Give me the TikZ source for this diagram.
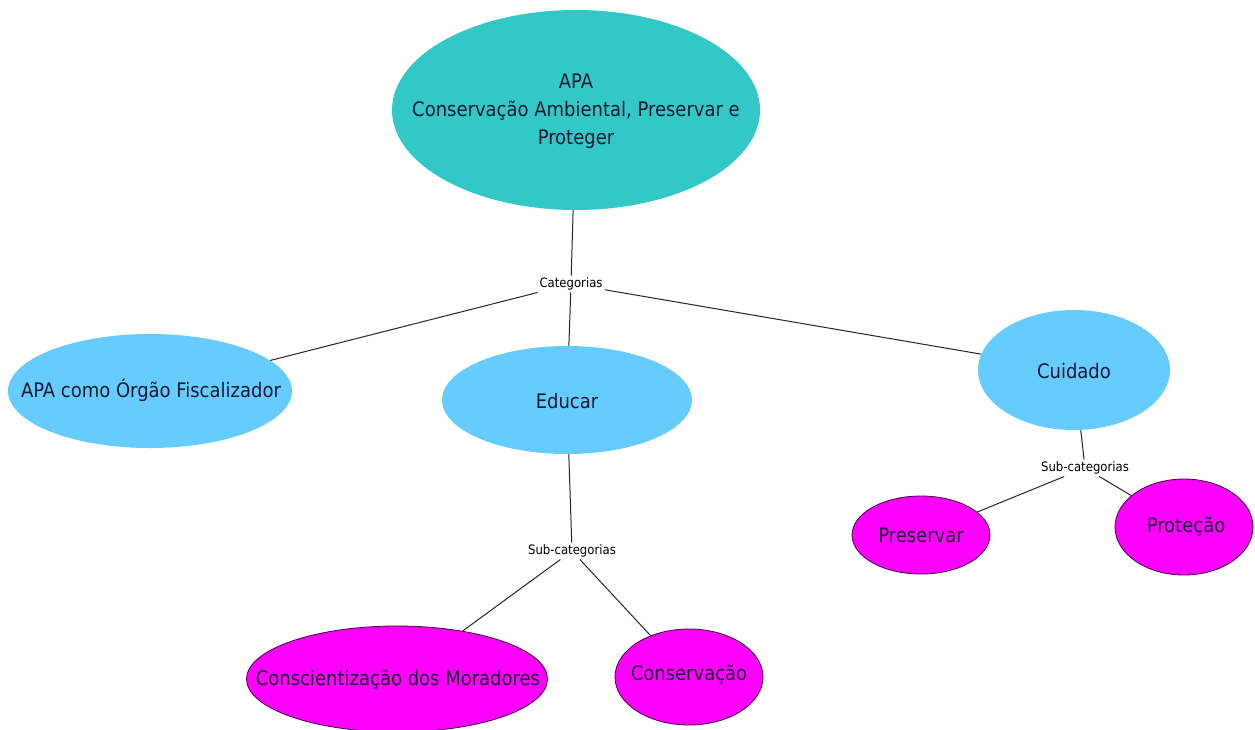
\documentclass[tikz,border=0pt]{standalone}
\usepackage{fontspec}
\setmainfont{DejaVu Sans Condensed}
\usetikzlibrary{shapes.geometric}
\definecolor{teal}{HTML}{33C8C8}
\definecolor{sky}{HTML}{66CCFF}
\definecolor{magent}{HTML}{FF00FF}
\definecolor{ink}{HTML}{1A1A30}
\definecolor{rim}{HTML}{3A0A3A}
\tikzset{
  bubble/.style={ellipse, inner sep=0pt, draw=none},
  topnode/.style={bubble, fill=teal},
  catnode/.style={bubble, fill=sky},
  subnode/.style={bubble, fill=magent, draw=rim, line width=0.8pt},
  txt/.style={font=\fontsize{20}{28}\selectfont, text=ink, align=center},
  tag/.style={font=\fontsize{13}{15}\selectfont, text=black, inner sep=2pt, fill=white},
  link/.style={draw=black!85, line width=1pt}
}
\begin{document}
\begin{tikzpicture}[x=1pt,y=-1pt]
\useasboundingbox[fill=white] (0,0) rectangle (1255,729);
% top concept
\node[topnode, minimum width=368pt, minimum height=200pt] (apa) at (576,110) {};
\node[txt] at (576,111) {APA\\Conservação Ambiental, Preservar e\\Proteger};
% categories
\node[catnode, minimum width=284pt, minimum height=114pt] (fisc) at (150,391) {};
\node[txt] at (151,390) {APA como Órgão Fiscalizador};
\node[catnode, minimum width=250pt, minimum height=108pt] (edu) at (567,400) {};
\node[txt] at (567,401) {Educar};
\node[catnode, minimum width=192pt, minimum height=120pt] (cuid) at (1074,370) {};
\node[txt] at (1074,371) {Cuidado};
% sub-categories
\node[subnode, minimum width=301pt, minimum height=106pt] (consc) at (397,679) {};
\node[txt] at (398,680) {Conscientização dos Moradores};
\node[subnode, minimum width=148pt, minimum height=96pt] (conserv) at (689,677) {};
\node[txt] at (689,675) {Conservação};
\node[subnode, minimum width=138pt, minimum height=78pt] (pres) at (921,535) {};
\node[txt] at (921,535) {Preservar};
\node[subnode, minimum width=138pt, minimum height=96pt] (prot) at (1184,527) {};
\node[txt] at (1186,527) {Proteção};
% link phrases
\node[tag] (cat) at (571,284) {Categorias};
\node[tag] (sub1) at (572,551) {Sub-categorias};
\node[tag] (sub2) at (1085,468) {Sub-categorias};
% connectors
\draw[link] (apa) -- (cat);
\draw[link] (cat) -- (fisc);
\draw[link] (cat) -- (edu);
\draw[link] (cat) -- (cuid);
\draw[link] (edu) -- (sub1);
\draw[link] (sub1) -- (consc);
\draw[link] (sub1) -- (conserv);
\draw[link] (cuid) -- (sub2);
\draw[link] (sub2) -- (pres);
\draw[link] (sub2) -- (prot);
\end{tikzpicture}
\end{document}
